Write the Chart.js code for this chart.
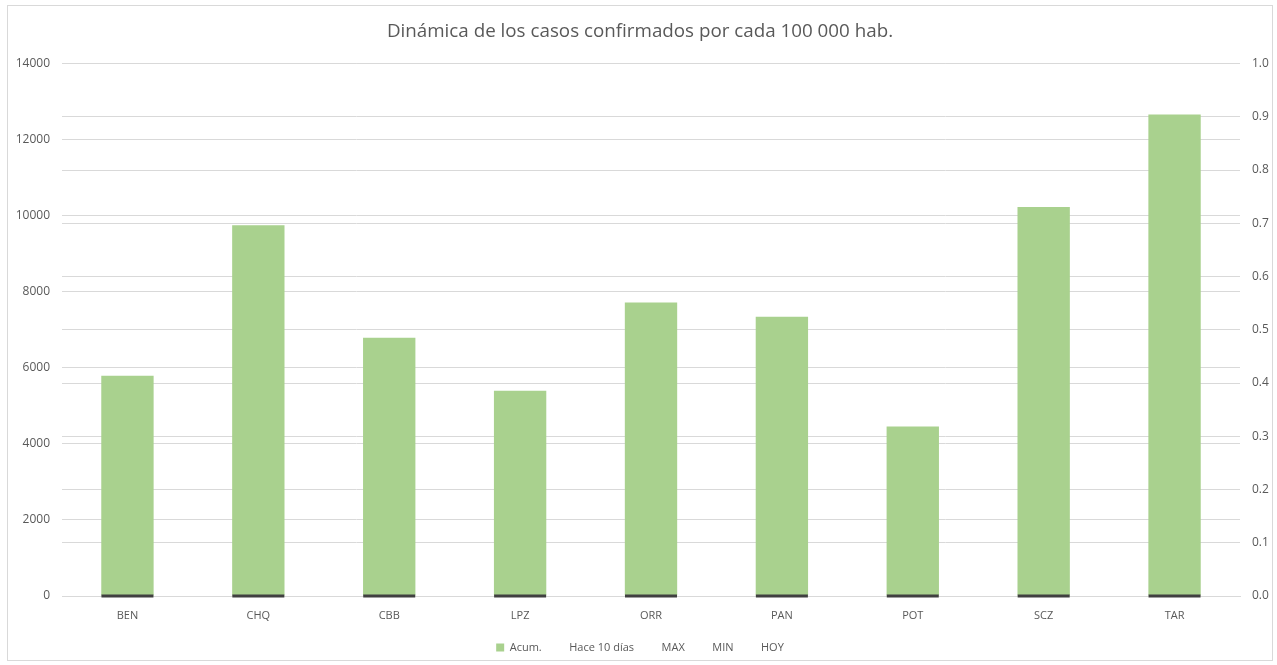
<!DOCTYPE html>
<html>
<head>
<meta charset="utf-8">
<script src="https://cdn.jsdelivr.net/npm/chart.js@4.4.0/dist/chart.umd.min.js"></script>
<style>
  body { margin: 0; background: #fff; }
  .frame {
    position: absolute; left: 7px; top: 5px;
    width: 1266px; height: 656px;
    border: 1px solid #d9d9d9; box-sizing: border-box;
  }
  canvas { display: block; }
</style>
</head>
<body>
<div class="frame">
  <canvas id="casosChart" width="1264" height="654"></canvas>
</div>
<script>
// departamentos
const labels = ["BEN", "CHQ", "CBB", "LPZ", "ORR", "PAN", "POT", "SCZ", "TAR"];
// casos acumulados por cada 100 000 hab.
const acum = [5790, 9750, 6790, 5400, 7720, 7340, 4460, 10230, 12660];
const hace10dias = [0, 0, 0, 0, 0, 0, 0, 0, 0];
const maxVals = [null, null, null, null, null, null, null, null, null];
const minVals = [null, null, null, null, null, null, null, null, null];
const hoyVals = [null, null, null, null, null, null, null, null, null];

const textColor = "#595959";
const gridColor = "#d9d9d9";
Chart.defaults.font.family = "'Open Sans', sans-serif";
Chart.defaults.color = textColor;

const ctx = document.getElementById("casosChart").getContext("2d");
const casosChart = new Chart(ctx, {
  type: "bar",
  data: {
    labels: labels,
    datasets: [
      {
        label: "Acum.",
        data: acum,
        backgroundColor: "#a9d18e",
        yAxisID: "y",
        categoryPercentage: 1,
        barPercentage: 0.4,
        order: 2,
      },
      {
        type: "line",
        label: "Hace 10 días",
        data: hace10dias,
        showLine: false,
        pointStyle: "line",
        pointRadius: 26,
        pointHoverRadius: 26,
        pointBorderWidth: 3,
        borderColor: "#404040",
        yAxisID: "y",
        clip: false,
        order: 1,
      },
      { type: "line", label: "MAX", data: maxVals, yAxisID: "y1", borderColor: "#404040" },
      { type: "line", label: "MIN", data: minVals, yAxisID: "y1", borderColor: "#404040" },
      { type: "line", label: "HOY", data: hoyVals, yAxisID: "y1", borderColor: "#404040" },
    ],
  },
  options: {
    responsive: false,
    animation: false,
    layout: { padding: { left: 0, right: 0, top: 4, bottom: -3 } },
    plugins: {
      title: {
        display: true,
        text: "Dinámica de los casos confirmados por cada 100 000 hab.",
        color: textColor,
        font: { size: 18.8, weight: "normal" },
        padding: { top: 10, bottom: 21 },
      },
      legend: {
        position: "bottom",
        labels: {
          color: textColor,
          font: { size: 11 },
          boxWidth: 8,
          boxHeight: 8,
          padding: 14,
          sort: (a, b) => a.datasetIndex - b.datasetIndex,
          generateLabels: (chart) => {
            const items = Chart.defaults.plugins.legend.labels.generateLabels(chart);
            items.forEach((item) => {
              if (item.datasetIndex === 0) {
                item.fillStyle = "#a9d18e";
                item.strokeStyle = "#a9d18e";
                item.lineWidth = 0;
              } else {
                // series sin marcador visible en la leyenda
                item.fillStyle = "rgba(0,0,0,0)";
                item.strokeStyle = "rgba(0,0,0,0)";
                item.lineWidth = 0;
              }
            });
            return items;
          },
        },
      },
      tooltip: { enabled: false },
    },
    scales: {
      x: {
        grid: { display: false },
        border: { color: gridColor },
        ticks: { color: textColor, font: { size: 11 }, padding: 5 },
        afterFit: (scale) => {
          scale.height = 32;
        },
      },
      y: {
        position: "left",
        min: 0,
        max: 14000,
        ticks: {
          stepSize: 2000,
          color: textColor,
          font: { size: 12 },
          padding: 12,
          callback: (value) => String(value),
        },
        grid: { color: gridColor, drawTicks: false },
        border: { display: false },
        afterFit: (scale) => {
          scale.width = 54;
        },
      },
      y1: {
        position: "right",
        min: 0,
        max: 1,
        ticks: {
          stepSize: 0.1,
          color: textColor,
          font: { size: 12 },
          padding: 12,
          callback: (value) => value.toFixed(1),
        },
        grid: { color: gridColor, drawTicks: false },
        border: { display: false },
        afterFit: (scale) => {
          scale.width = 32;
        },
      },
    },
  },
});
</script>
</body>
</html>
